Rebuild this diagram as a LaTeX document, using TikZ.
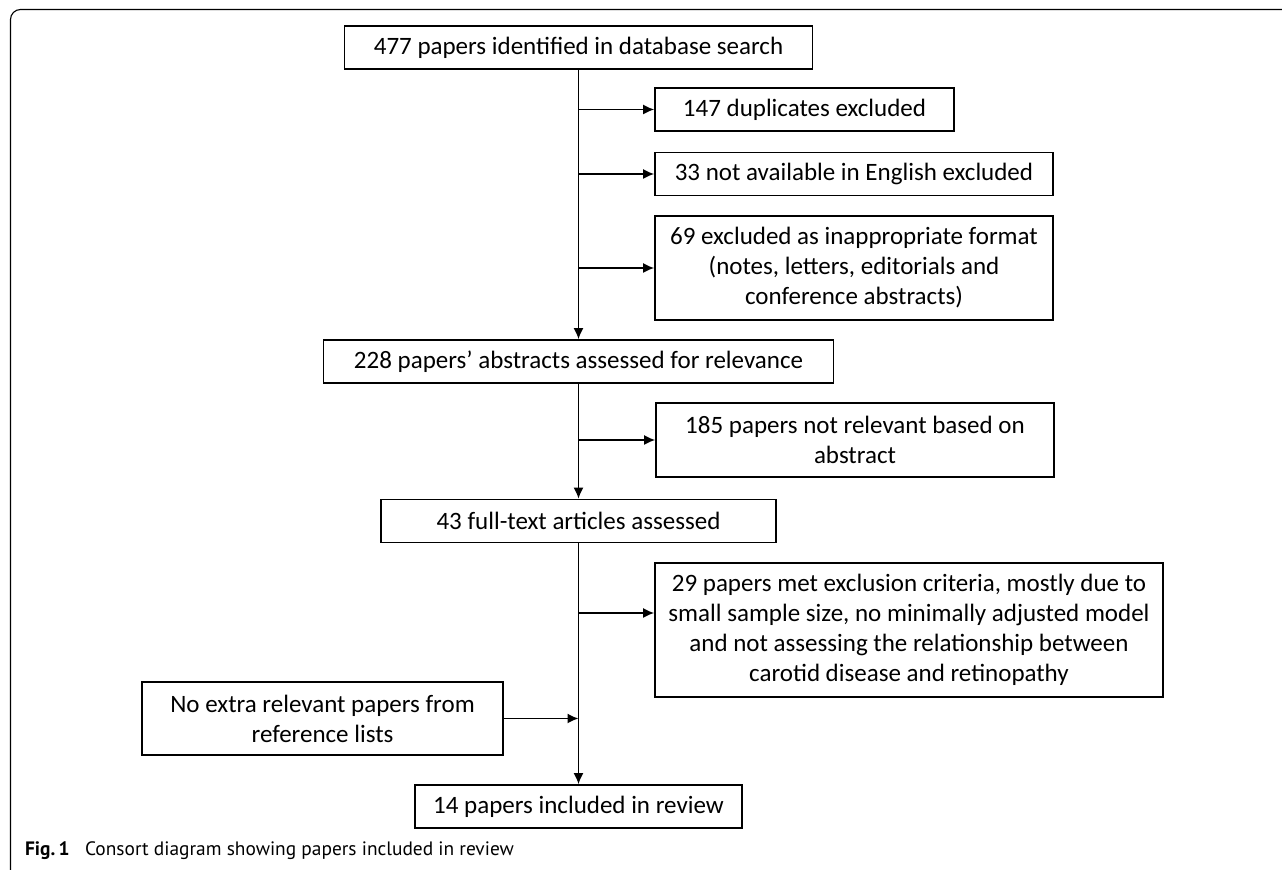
\documentclass[tikz,border=0pt]{standalone}
\usepackage{fontspec}
\setmainfont{Carlito}
\newfontfamily\capfont{PT Sans}
\usetikzlibrary{arrows.meta}

\tikzset{
  box/.style={draw, line width=0.8pt, inner sep=0pt, align=center,
    minimum height=21.5pt, font=\fontsize{12.5}{15}\selectfont},
  link/.style={line width=0.8pt, -{Latex[length=5.5pt,width=5pt]}},
}

\begin{document}
\begin{tikzpicture}[x=0.5pt,y=-0.5pt]

\useasboundingbox (0,0) rectangle (1282,870);

%%%%%%%%%%%%%%%%%%%%%%%%
% frame and caption
%%%%%%%%%%%%%%%%%%%%%%%%

\draw[line width=0.55pt,rounded corners=5pt] (10.5,870) -- (10.5,9.5) -- (1282,9.5);

\node[anchor=west,font=\capfont\fontsize{9.7}{11}\selectfont] (caption) at (18,851)
  {\textbf{Fig.\,1}\hspace{0.8em}Consort diagram showing papers included in review};

%%%%%%%%%%%%%%%%%%%%%%%%
% main column
%%%%%%%%%%%%%%%%%%%%%%%%

\node[box,minimum width=234pt] (n477) at (578.5,47.5) {477 papers identified in database search};
\node[box,minimum width=255pt] (n228) at (578.5,361.5) {228 papers’ abstracts assessed for relevance};
\node[box,minimum width=197.5pt] (n43) at (578.5,521) {43 full-text articles assessed};
\node[box,minimum width=163.5pt] (n14) at (578.5,806.5) {14 papers included in review};

\draw[link] (n477) -- (n228);
\draw[link] (n228) -- (n43);
\draw[link] (n43) -- (n14);

%%%%%%%%%%%%%%%%%%%%%%%%
% exclusions
%%%%%%%%%%%%%%%%%%%%%%%%

\node[box,minimum width=149.5pt] (n147) at (804.5,109.5) {147 duplicates excluded};
\node[box,minimum width=199pt] (n33) at (854,174) {33 not available in English excluded};
\node[box,minimum width=199pt,minimum height=52pt] (n69) at (854,268)
  {69 excluded as inappropriate format\\(notes, letters, editorials and\\conference abstracts)};
\node[box,minimum width=199pt,minimum height=37pt] (n185) at (855,440)
  {185 papers not relevant based on\\abstract};
\node[box,minimum width=254pt,minimum height=67pt] (n29) at (909,630)
  {29 papers met exclusion criteria, mostly due to\\small sample size, no minimally adjusted model\\and not assessing the relationship between\\carotid disease and retinopathy};

\coordinate (c29) at (909,613);

\draw[link] (n477.south |- n147.west) -- (n147.west);
\draw[link] (n477.south |- n33.west) -- (n33.west);
\draw[link] (n477.south |- n69.west) -- (n69.west);
\draw[link] (n228.south |- n185.west) -- (n185.west);
\draw[link] (n43.south |- c29) -- (n29.west |- c29);

%%%%%%%%%%%%%%%%%%%%%%%%
% extra papers
%%%%%%%%%%%%%%%%%%%%%%%%

\node[box,minimum width=180.5pt,minimum height=36.5pt] (nExtra) at (322.5,718.5)
  {No extra relevant papers from\\reference lists};

\draw[link] (nExtra.east) -- (nExtra.east -| n43.south);

\end{tikzpicture}
\end{document}
